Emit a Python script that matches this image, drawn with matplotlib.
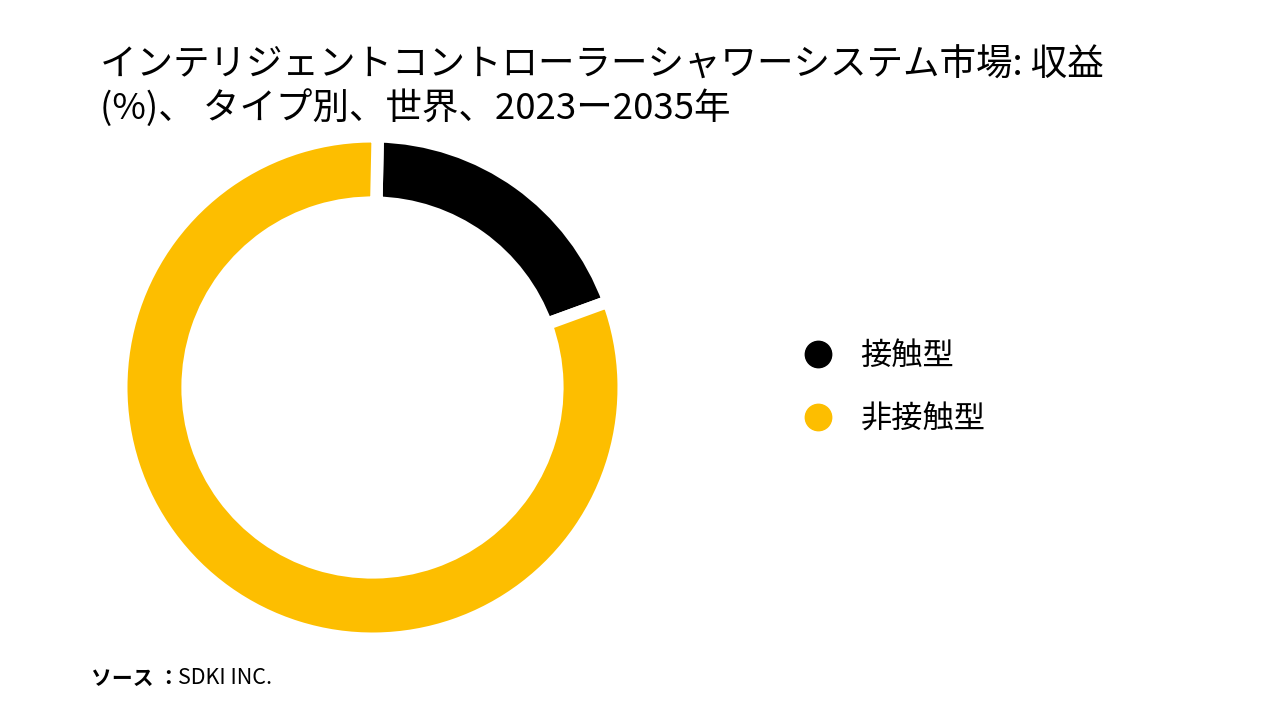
import matplotlib.pyplot as plt
from matplotlib.lines import Line2D

# data
labels = ["接触型", "非接触型"]
shares = [19.1, 80.9]
colors = ["#000000", "#FDBE00"]

title = "インテリジェントコントローラーシャワーシステム市場: 収益\n(%)、 タイプ別、世界、2023ー2035年"
source_label = "ソース ："
source_name = "SDKI INC."

plt.rcParams['font.family'] = ['Noto Sans CJK JP', 'DejaVu Sans']

fig = plt.figure(figsize=(12.8, 7.2), dpi=100)

# donut
ax = fig.add_axes([0.0996, 0.1215, 0.3828, 0.6806])
ax.pie(shares, colors=colors, startangle=88.8, counterclock=False, radius=1.0255,
       wedgeprops=dict(width=0.271, edgecolor="white", linewidth=9))
ax.set_xlim(-1, 1)
ax.set_ylim(-1, 1)
ax.set_aspect("equal")
ax.axis("off")

# legend
handles = [Line2D([0], [0], marker="o", linestyle="", markersize=19,
                  markerfacecolor=c, markeredgecolor=c) for c in colors]
fig.legend(handles, labels, loc="upper left", bbox_to_anchor=(0.605, 0.545),
           frameon=False, fontsize=22.5, handletextpad=0.35, labelspacing=1.0,
           borderaxespad=0)

# title
fig.text(0.078, 0.934, title, fontsize=26.3, va="top", ha="left",
         linespacing=1.2, color="black")

# source
fig.text(0.071, 0.058, source_label, fontsize=15, fontweight="bold",
         va="center", ha="left")
fig.text(0.139, 0.058, source_name, fontsize=15.5, va="center", ha="left")

fig.savefig("out.png", dpi=100)
